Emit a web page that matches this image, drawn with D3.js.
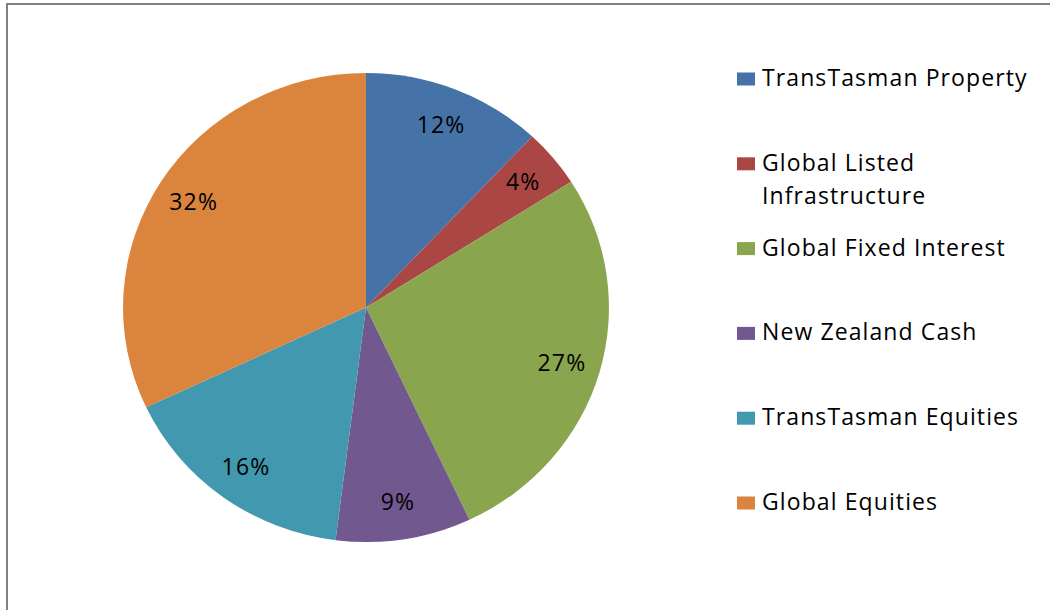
<!DOCTYPE html>
<html>
<head>
<meta charset="utf-8">
<script src="https://cdn.jsdelivr.net/npm/d3@7/dist/d3.min.js"></script>
<style>
  html, body { margin: 0; padding: 0; background: #fff; }
  svg { display: block; }
  text { font-family: "Open Sans", sans-serif; fill: #000; }
</style>
</head>
<body>
<div id="chart"></div>
<script>
// asset allocation data
const categories = [
  "TransTasman Property",
  "Global Listed Infrastructure",
  "Global Fixed Interest",
  "New Zealand Cash",
  "TransTasman Equities",
  "Global Equities"
];
const values = [12, 4, 27, 9, 16, 32];
const colors = ["#4572A7", "#AA4643", "#89A54E", "#71588F", "#4198AF", "#DB843D"];

const width = 1050, height = 610;
const cx = 366, cy = 307.5;
const radius = 234.5;
const stretchX = 1.036;   // the original pie is a touch wider than tall
const labelR = radius * 0.84;

const svg = d3.select("#chart").append("svg")
  .attr("width", width)
  .attr("height", height);

svg.append("rect")
  .attr("x", 7)
  .attr("y", 4)
  .attr("width", width + 20)
  .attr("height", height + 20)
  .attr("fill", "#fff")
  .attr("stroke", "#808080")
  .attr("stroke-width", 2);

const data = categories.map((c, i) => ({ name: c, value: values[i], color: colors[i] }));

const pie = d3.pie().sort(null).value(d => d.value);
const arcs = pie(data);

const arc = d3.arc().innerRadius(0).outerRadius(radius);
const labelArc = d3.arc().innerRadius(labelR).outerRadius(labelR);

const pieG = svg.append("g")
  .attr("transform", `translate(${cx},${cy}) scale(${stretchX},1)`);

pieG.selectAll("path.slice")
  .data(arcs).enter()
  .append("path")
  .attr("class", "slice")
  .attr("d", arc)
  .attr("fill", d => d.data.color);

// percent labels
svg.append("g")
  .attr("transform", `translate(${cx},${cy})`)
  .selectAll("text")
  .data(arcs).enter()
  .append("text")
  .attr("x", d => labelArc.centroid(d)[0] * stretchX)
  .attr("y", d => labelArc.centroid(d)[1])
  .attr("text-anchor", "middle")
  .attr("dy", "0.36em")
  .style("font-size", "23px")
  .style("letter-spacing", "1.2px")
  .text(d => d3.format(".0%")(d.data.value / d3.sum(values)));

// legend
const legendY = d3.scalePoint().domain(categories).range([79, 503]);
const maxTextW = 295;

const legend = svg.append("g");
const items = legend.selectAll("g.item")
  .data(data).enter()
  .append("g")
  .attr("class", "item")
  .attr("transform", d => `translate(737,${legendY(d.name)})`);

items.append("rect")
  .attr("x", 0)
  .attr("y", -6.5)
  .attr("width", 18)
  .attr("height", 13)
  .attr("fill", d => d.color);

items.each(function(d) {
  const t = d3.select(this).append("text")
    .attr("x", 25)
    .attr("y", 7)
    .style("font-size", "23px")
    .style("letter-spacing", "1.1px");
  // simple word wrap
  const words = d.name.split(" ");
  let line = [];
  let tspan = t.append("tspan").attr("x", 25).attr("dy", 0);
  words.forEach(w => {
    line.push(w);
    tspan.text(line.join(" "));
    if (tspan.node().getComputedTextLength() > maxTextW && line.length > 1) {
      line.pop();
      tspan.text(line.join(" "));
      line = [w];
      tspan = t.append("tspan").attr("x", 25).attr("dy", 33).text(w);
    }
  });
});
</script>
</body>
</html>
